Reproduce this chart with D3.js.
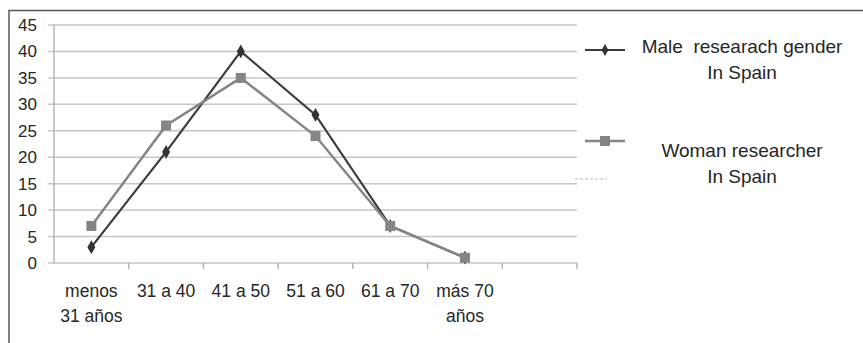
<!DOCTYPE html>
<html>
<head>
<meta charset="utf-8">
<script src="https://cdn.jsdelivr.net/npm/d3@7"></script>
<style>
  body { margin: 0; background: #fff; }
  text { font-family: "Liberation Sans", Arial, sans-serif; fill: #262626; white-space: pre; }
</style>
</head>
<body>
<script>
// age groups (one empty slot at the end, as in the original sheet)
const categories = ["menos\n31 años", "31 a 40", "41 a 50", "51 a 60", "61 a 70", "más 70\naños"];
const maleValues = [3, 21, 40, 28, 7, 1];
const womanValues = [7, 26, 35, 24, 7, 1];
const yTicks = [0, 5, 10, 15, 20, 25, 30, 35, 40, 45];
const legendLabels = [["Male  researach gender", "In Spain"], ["Woman researcher", "In Spain"]];

const svgWidth = 863;
const svgHeight = 343;

const margin = { top: 25, left: 54, right: 286, bottom: 80 };
const width = svgWidth - margin.left - margin.right;
const height = svgHeight - margin.top - margin.bottom;

let svg = d3.select("body")
    .append("svg")
    .attr("width", svgWidth)
    .attr("height", svgHeight);

// frame (only top and left edges show in the cropped picture)
svg.append("path")
    .attr("d", `M9,${svgHeight} V10.5 H${svgWidth}`)
    .attr("fill", "none")
    .attr("stroke", "#555")
    .attr("stroke-width", 1.5);

let chartGroup = svg.append("g")
    .attr("transform", `translate(${margin.left}, ${margin.top})`);

const xScale = d3.scaleBand()
    .domain(d3.range(categories.length + 1))
    .range([0, width]);

const yScale = d3.scaleLinear()
    .domain([0, 45])
    .range([height, 0]);

// horizontal gridlines + left ticks
chartGroup.append("g")
    .selectAll("line")
    .data(yTicks)
    .enter()
    .append("line")
    .attr("x1", -6)
    .attr("x2", width)
    .attr("y1", d => yScale(d))
    .attr("y2", d => yScale(d))
    .attr("stroke", "#c6c6c6")
    .attr("stroke-width", 1.5);

// y axis line
chartGroup.append("line")
    .attr("x1", 0).attr("x2", 0)
    .attr("y1", 0).attr("y2", height)
    .attr("stroke", "#b5b5b5")
    .attr("stroke-width", 1.5);

// x axis tick marks at band edges
chartGroup.append("g")
    .selectAll("line")
    .data(d3.range(1, categories.length + 2))
    .enter()
    .append("line")
    .attr("x1", d => d < categories.length + 1 ? xScale(d) : width)
    .attr("x2", d => d < categories.length + 1 ? xScale(d) : width)
    .attr("y1", height)
    .attr("y2", height + 6)
    .attr("stroke", "#b5b5b5")
    .attr("stroke-width", 1.5);

// y labels
chartGroup.append("g")
    .selectAll("text")
    .data(yTicks)
    .enter()
    .append("text")
    .attr("x", -17)
    .attr("y", d => yScale(d) + 6)
    .attr("text-anchor", "end")
    .attr("font-size", "17px")
    .text(d => d);

// x labels
let xLabels = chartGroup.append("g")
    .selectAll("text")
    .data(categories)
    .enter()
    .append("text")
    .attr("text-anchor", "middle")
    .attr("font-size", "17.5px")
    .attr("transform", (d, i) => `translate(${xScale(i) + xScale.bandwidth() / 2}, ${height + 34})`);

xLabels.selectAll("tspan")
    .data(d => d.split("\n"))
    .enter()
    .append("tspan")
    .attr("x", 0)
    .attr("dy", (d, i) => i === 0 ? 0 : 25)
    .text(d => d);

const line = d3.line()
    .x((d, i) => xScale(i) + xScale.bandwidth() / 2)
    .y(d => yScale(d));

// male series
chartGroup.append("path")
    .datum(maleValues)
    .attr("d", line)
    .attr("fill", "none")
    .attr("stroke", "#3c3c3c")
    .attr("stroke-width", 2.2);

chartGroup.append("g")
    .selectAll("path")
    .data(maleValues)
    .enter()
    .append("path")
    .attr("d", d3.symbol().type(d3.symbolDiamond).size(55))
    .attr("transform", (d, i) => `translate(${xScale(i) + xScale.bandwidth() / 2}, ${yScale(d)})`)
    .attr("fill", "#333");

// woman series
chartGroup.append("path")
    .datum(womanValues)
    .attr("d", line)
    .attr("fill", "none")
    .attr("stroke", "#858585")
    .attr("stroke-width", 2.5);

chartGroup.append("g")
    .selectAll("rect")
    .data(womanValues)
    .enter()
    .append("rect")
    .attr("x", (d, i) => xScale(i) + xScale.bandwidth() / 2 - 5)
    .attr("y", d => yScale(d) - 5)
    .attr("width", 10)
    .attr("height", 10)
    .attr("fill", "#858585");

// legend
let legend = svg.append("g");

// male entry
legend.append("line")
    .attr("x1", 585).attr("x2", 625)
    .attr("y1", 50).attr("y2", 50)
    .attr("stroke", "#3c3c3c")
    .attr("stroke-width", 2.2);
legend.append("path")
    .attr("d", d3.symbol().type(d3.symbolDiamond).size(40))
    .attr("transform", "translate(605, 50)")
    .attr("fill", "#333");

// woman entry
legend.append("line")
    .attr("x1", 585).attr("x2", 625)
    .attr("y1", 141).attr("y2", 141)
    .attr("stroke", "#858585")
    .attr("stroke-width", 2.5);
legend.append("rect")
    .attr("x", 600).attr("y", 136)
    .attr("width", 10).attr("height", 10)
    .attr("fill", "#858585");

// stray dashed mark under the woman entry
legend.append("line")
    .attr("x1", 575).attr("x2", 607)
    .attr("y1", 179).attr("y2", 179)
    .attr("stroke", "#bbb")
    .attr("stroke-dasharray", "3,2");

const legendY = [53, 157];
legendLabels.forEach((lines, k) => {
    let t = legend.append("text")
        .attr("text-anchor", "middle")
        .attr("font-size", "19px")
        .attr("transform", `translate(742, ${legendY[k]})`);
    t.selectAll("tspan")
        .data(lines)
        .enter()
        .append("tspan")
        .attr("x", 0)
        .attr("dy", (d, i) => i === 0 ? 0 : 26)
        .text(d => d);
});
</script>
</body>
</html>
